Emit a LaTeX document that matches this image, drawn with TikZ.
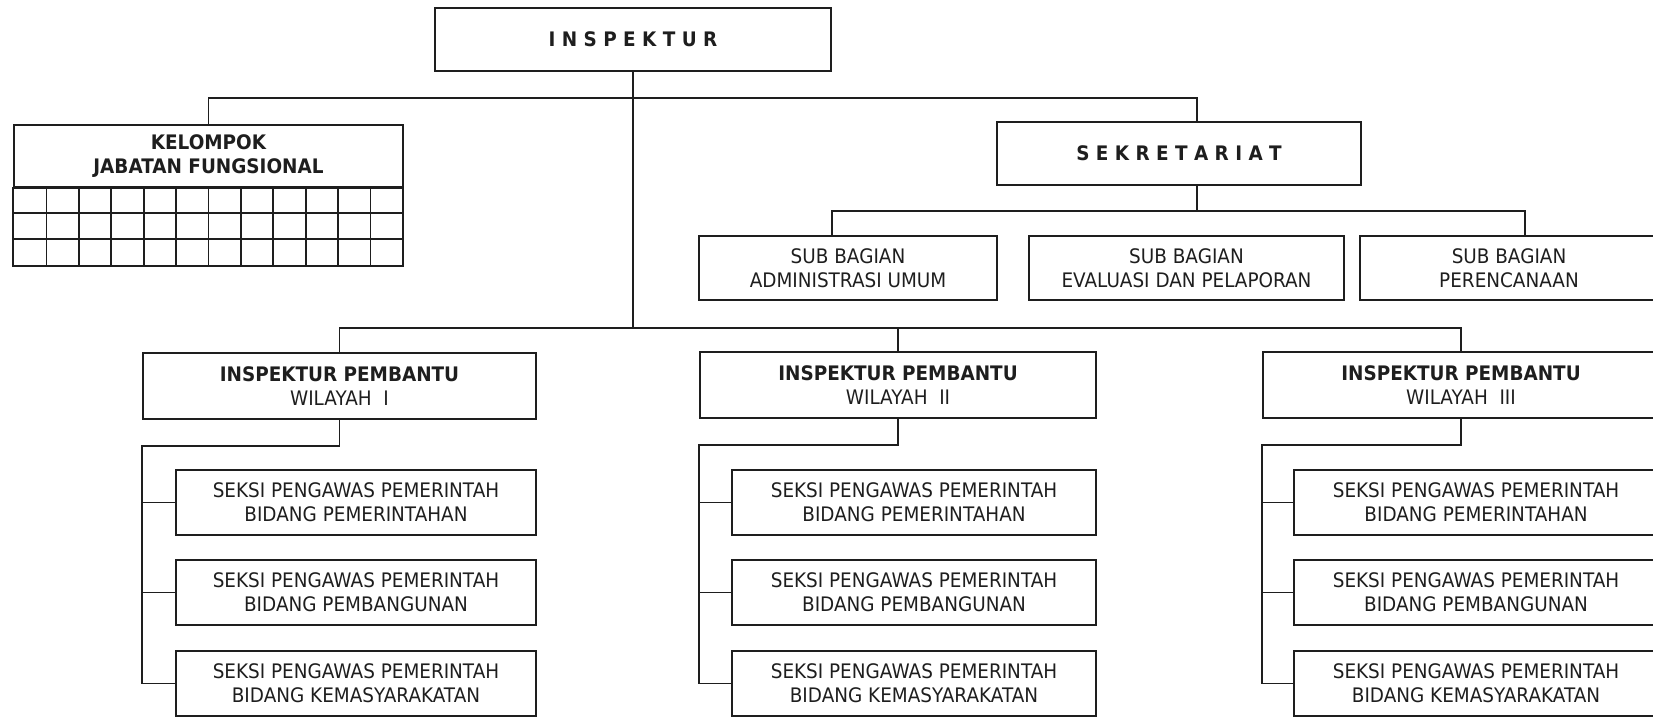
\documentclass[tikz,border=0pt]{standalone}
\usepackage{fontspec}
\setmainfont{DejaVu Sans}[FakeStretch=0.92]
\definecolor{ink}{HTML}{1E1E1E}
\begin{document}
\begin{tikzpicture}[x=0.5pt, y=-0.5pt,
    line/.style={draw=ink, line width=0.9pt},
    unit/.style={line, rectangle, inner sep=0pt, align=center, text=ink,
      font=\fontsize{10}{12}\selectfont},
    head/.style={unit, font=\fontsize{10}{12}\selectfont\bfseries, minimum height=31.5pt},
    sub/.style={unit, minimum height=32pt},
    pembantu/.style={unit, minimum width=198pt, minimum height=33pt},
    seksi/.style={unit, minimum width=182pt, minimum height=32.5pt}]
  \useasboundingbox (0,0) rectangle (1653,720);
  \clip (0,0) rectangle (1653,720);

  % top level
  \node[head, minimum width=198pt] (insp) at (633,39.5) {I N S P E K T U R};
  \node[head, minimum width=194.5pt, minimum height=31pt] (kjf) at (208.5,156)
    {KELOMPOK\\JABATAN FUNGSIONAL};
  \node[head, minimum width=182pt] (sekr) at (1179,153.5) {S E K R E T A R I A T};

  % grid under kelompok jabatan fungsional
  \coordinate (gridend) at (403,266);
  \draw[line] (kjf.south west) rectangle (gridend);
  \foreach \y in {213,239}
    \draw[line] (14,\y) -- (403,\y);
  \foreach \i in {1,...,11}
    \draw[line] ({14+\i*32.4},187) -- ({14+\i*32.4},266);

  % sub bagian
  \node[sub, minimum width=149pt] (sub1) at (848,268) {SUB BAGIAN\\ADMINISTRASI UMUM};
  \node[sub, minimum width=157.5pt] (sub2) at (1186.5,268) {SUB BAGIAN\\EVALUASI DAN PELAPORAN};
  \node[sub, minimum width=149pt] (sub3) at (1509,268) {SUB BAGIAN\\PERENCANAAN};

  % inspektur pembantu
  \node[pembantu, minimum width=196.5pt] (ip1) at (339.5,386)
    {\textbf{INSPEKTUR PEMBANTU}\\WILAYAH~~I};
  \node[pembantu] (ip2) at (898,385) {\textbf{INSPEKTUR PEMBANTU}\\WILAYAH~~II};
  \node[pembantu] (ip3) at (1461,385) {\textbf{INSPEKTUR PEMBANTU}\\WILAYAH~~III};

  % seksi
  \foreach \c/\x/\w in {1/356/180pt, 2/914/182pt, 3/1476/182pt} {
    \node[seksi, minimum width=\w] (s\c1) at (\x,502.5)
      {SEKSI PENGAWAS PEMERINTAH\\BIDANG PEMERINTAHAN};
    \node[seksi, minimum width=\w] (s\c2) at (\x,592.5)
      {SEKSI PENGAWAS PEMERINTAH\\BIDANG PEMBANGUNAN};
    \node[seksi, minimum width=\w] (s\c3) at (\x,683.5)
      {SEKSI PENGAWAS PEMERINTAH\\BIDANG KEMASYARAKATAN};
  }

  % connectors
  \coordinate (topbar) at (0,98);
  \coordinate (subbar) at (0,211);
  \coordinate (midbar) at (0,328);
  \draw[line] (insp.south) -- (insp.south |- midbar);
  \draw[line] (kjf.north) |- ([xshift=9pt]sekr.north |- topbar) -- ([xshift=9pt]sekr.north);
  \draw[line] ([xshift=9pt]sekr.south) -- ([xshift=9pt]sekr.south |- subbar);
  \draw[line] ([xshift=-8pt]sub1.north) |- ([xshift=8pt]sub3.north |- subbar)
    -- ([xshift=8pt]sub3.north);
  \draw[line] (ip1.north) |- (ip3.north |- midbar) -- (ip3.north);
  \draw[line] (ip2.north) -- (ip2.north |- midbar);
  \foreach \c in {1,2,3} {
    \draw[line] (ip\c.south) -- ++(0,26) -| (s\c3.west -| ip\c.south west) -- (s\c3.west);
    \foreach \r in {1,2}
      \draw[line] (s\c\r.west) -- (s\c\r.west -| ip\c.south west);
  }
\end{tikzpicture}
\end{document}
